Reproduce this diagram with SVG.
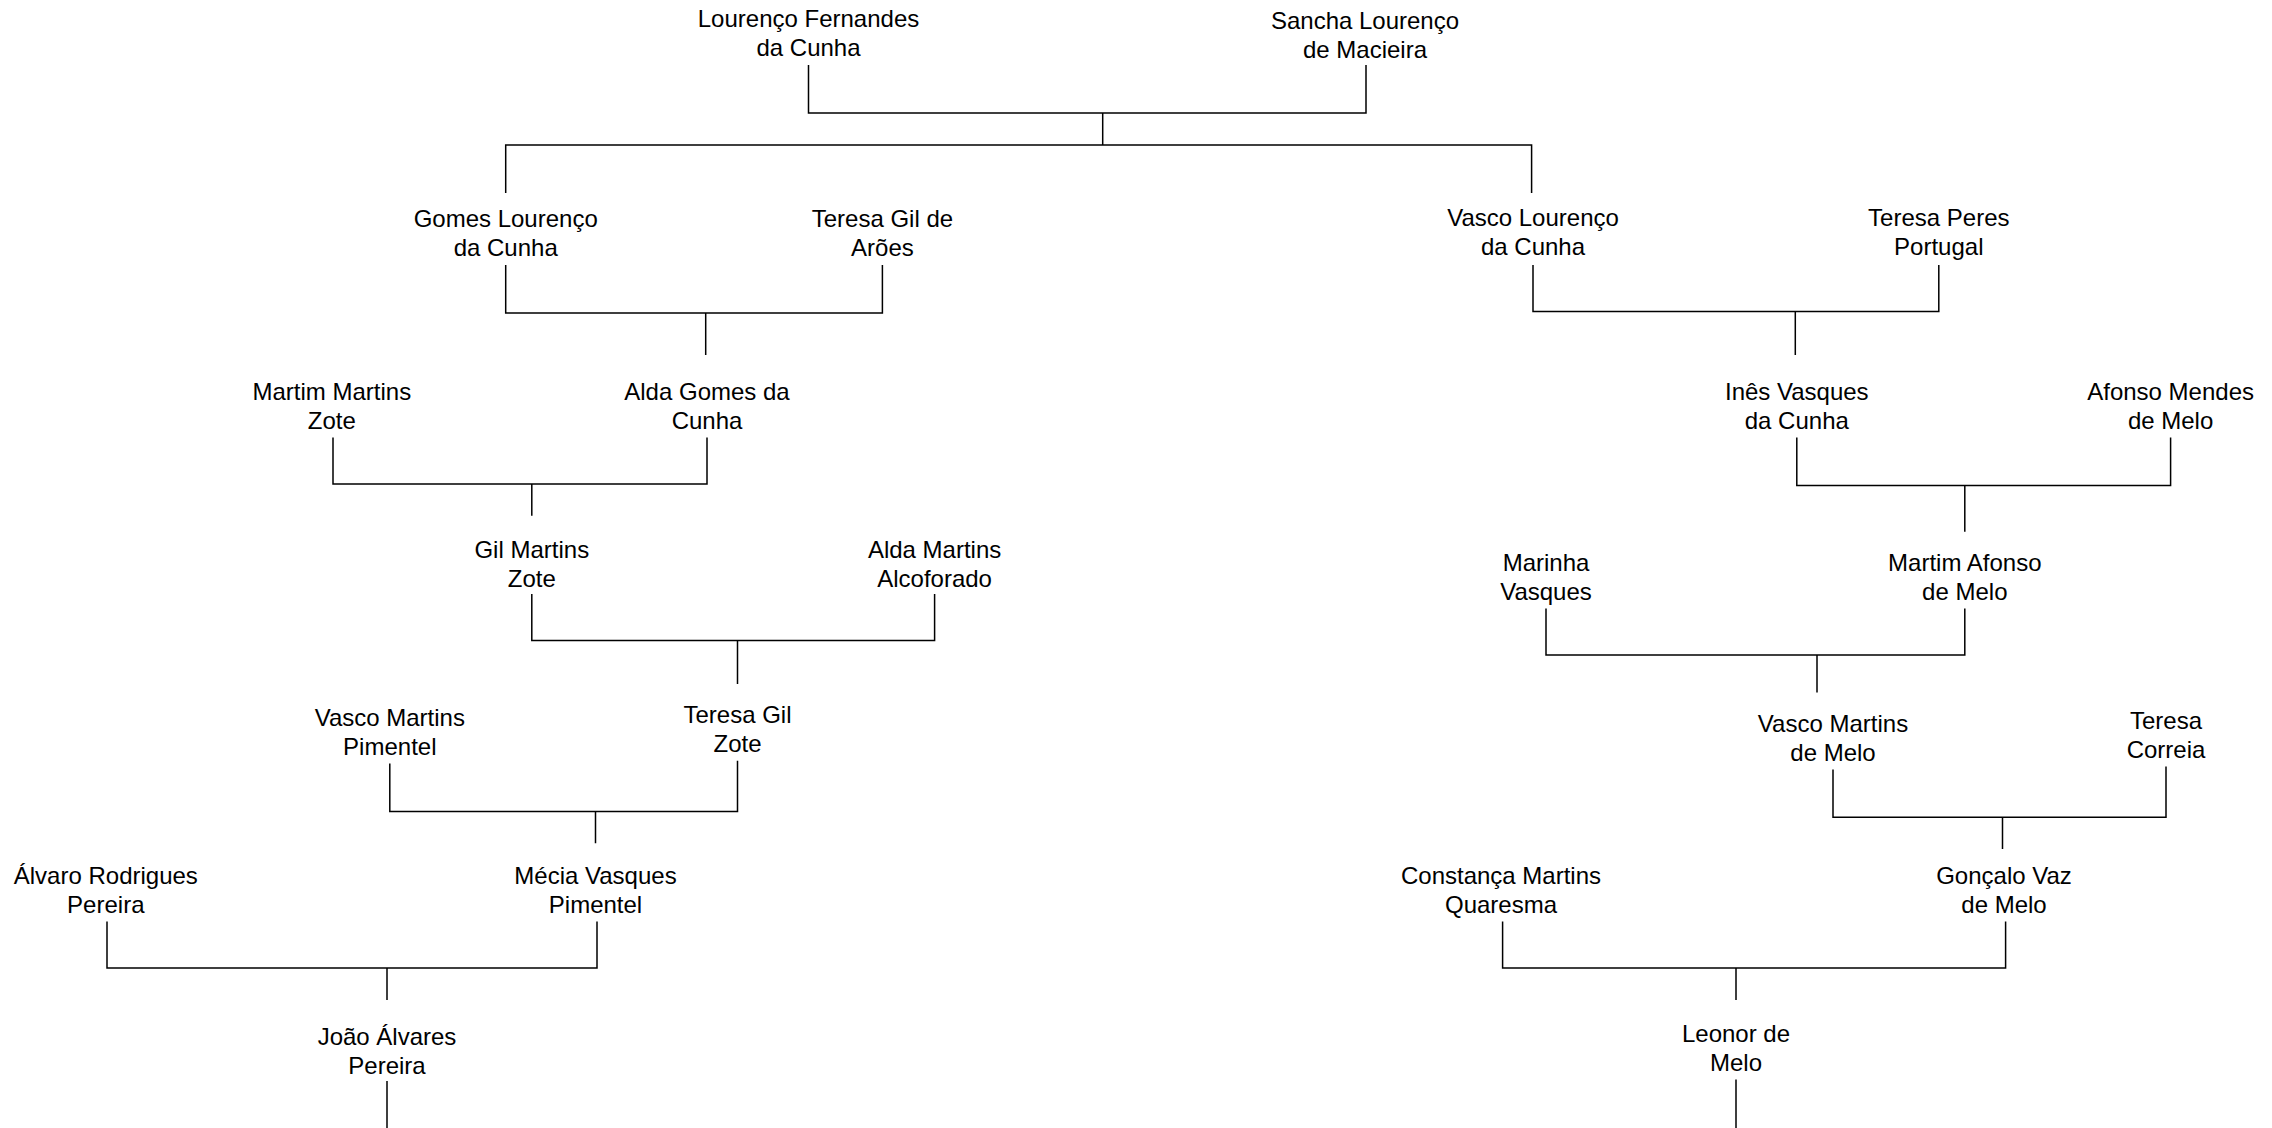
<svg xmlns="http://www.w3.org/2000/svg" width="2272" height="1128" viewBox="0 0 2272 1128">
<style>
text{font-family:"Liberation Sans",Arial,sans-serif;font-size:24px;fill:#000;text-anchor:middle}
.c{stroke:#000;stroke-width:1.5;fill:none}
</style>
<rect width="2272" height="1128" fill="#fff"/>
<g id="connectors" class="c">
<path d="M808.5 65V113H1366V65M1102.7 113V145M505.7 193V145H1531.6V193"/>
<path d="M505.7 265V313H882.4V265M705.7 313V355"/>
<path d="M1533 265V311.5H1938.8V265M1795.3 311.5V355"/>
<path d="M333 437.6V484H707V437.6M531.8 484V515.8"/>
<path d="M1796.8 437.6V485.4H2170.6V437.6M1964.8 485.4V531.8"/>
<path d="M531.8 594V640.5H934.6V594M737.5 640.5V684"/>
<path d="M1546 608.6V655H1964.8V608.6M1817 655V692.6"/>
<path d="M389.8 763.6V811.4H737.5V760.7M595.5 811.4V843.3"/>
<path d="M1833 769.4V817.2H2166V766.5M2002.5 817.2V849"/>
<path d="M107 921.6V968H597V921.6M387 968V1000"/>
<path d="M1502.6 921.6V968H2005.6V921.6M1736 968V1000"/>
<path d="M387 1081V1128M1736 1079.5V1128"/>
</g>
<g id="n1"><text x="808.5" y="27.3">Lourenço Fernandes</text><text x="808.5" y="56.3">da Cunha</text></g>
<g id="n2"><text x="1365" y="28.8">Sancha Lourenço</text><text x="1365" y="57.8">de Macieira</text></g>
<g id="n3"><text x="505.7" y="227.3">Gomes Lourenço</text><text x="505.7" y="256.3">da Cunha</text></g>
<g id="n4"><text x="882.4" y="227.3">Teresa Gil de</text><text x="882.4" y="256.3">Arões</text></g>
<g id="n5"><text x="1533" y="225.9">Vasco Lourenço</text><text x="1533" y="254.9">da Cunha</text></g>
<g id="n6"><text x="1938.8" y="225.9">Teresa Peres</text><text x="1938.8" y="254.9">Portugal</text></g>
<g id="n7"><text x="331.8" y="399.7">Martim Martins</text><text x="331.8" y="428.7">Zote</text></g>
<g id="n8"><text x="707" y="399.7">Alda Gomes da</text><text x="707" y="428.7">Cunha</text></g>
<g id="n9"><text x="1796.8" y="399.7">Inês Vasques</text><text x="1796.8" y="428.7">da Cunha</text></g>
<g id="n10"><text x="2170.6" y="399.7">Afonso Mendes</text><text x="2170.6" y="428.7">de Melo</text></g>
<g id="n11"><text x="531.8" y="557.7">Gil Martins</text><text x="531.8" y="586.7">Zote</text></g>
<g id="n12"><text x="934.6" y="557.7">Alda Martins</text><text x="934.6" y="586.7">Alcoforado</text></g>
<g id="n13"><text x="1546" y="570.7">Marinha</text><text x="1546" y="599.7">Vasques</text></g>
<g id="n14"><text x="1964.8" y="570.7">Martim Afonso</text><text x="1964.8" y="599.7">de Melo</text></g>
<g id="n15"><text x="389.8" y="725.8">Vasco Martins</text><text x="389.8" y="754.8">Pimentel</text></g>
<g id="n16"><text x="737.5" y="722.9">Teresa Gil</text><text x="737.5" y="751.9">Zote</text></g>
<g id="n17"><text x="1833" y="731.5">Vasco Martins</text><text x="1833" y="760.5">de Melo</text></g>
<g id="n18"><text x="2166" y="728.7">Teresa</text><text x="2166" y="757.7">Correia</text></g>
<g id="n19"><text x="105.8" y="883.7">Álvaro Rodrigues</text><text x="105.8" y="912.7">Pereira</text></g>
<g id="n20"><text x="595.5" y="883.7">Mécia Vasques</text><text x="595.5" y="912.7">Pimentel</text></g>
<g id="n21"><text x="1501" y="883.7">Constança Martins</text><text x="1501" y="912.7">Quaresma</text></g>
<g id="n22"><text x="2004" y="883.7">Gonçalo Vaz</text><text x="2004" y="912.7">de Melo</text></g>
<g id="n23"><text x="387" y="1044.5">João Álvares</text><text x="387" y="1073.5">Pereira</text></g>
<g id="n24"><text x="1736" y="1041.6">Leonor de</text><text x="1736" y="1070.6">Melo</text></g>
</svg>
